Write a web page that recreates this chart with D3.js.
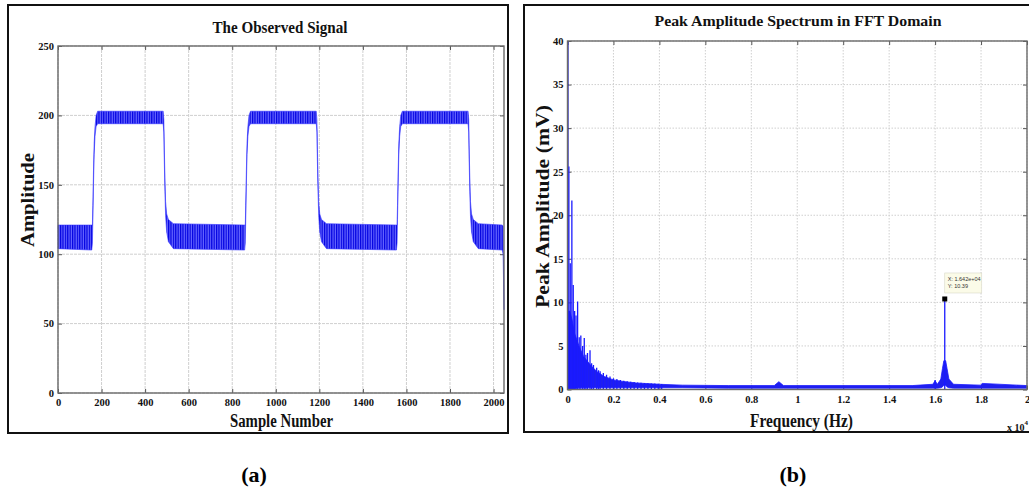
<!DOCTYPE html>
<html>
<head>
<meta charset="utf-8">
<script src="https://cdn.jsdelivr.net/npm/d3@7"></script>
<style>
  body { margin: 0; background: #fff; }
  svg { display: block; font-family: "Liberation Serif", "Times New Roman", serif; }
</style>
</head>
<body>
<svg id="fig" width="1029" height="493"></svg>
<script>
// ---------- (a) observed signal: envelope of the noisy square wave ----------
const sigSample = [0, 155, 158, 160, 163, 166, 170, 175, 182,
  483, 486, 488, 491, 494, 499, 507, 530,
  857, 860, 862, 865, 868, 872, 877, 884,
  1186, 1189, 1191, 1194, 1197, 1202, 1210, 1233,
  1554, 1557, 1559, 1562, 1565, 1569, 1574, 1581,
  1883, 1886, 1888, 1891, 1894, 1899, 1907, 1930,
  2040, 2044, 2048];
const sigLow = [104, 103, 108, 125, 150, 172, 185, 192, 194,
  194, 188, 168, 145, 128, 116, 109, 104,
  103, 108, 125, 150, 172, 185, 192, 194,
  194, 188, 168, 145, 128, 116, 109, 104,
  103, 108, 125, 150, 172, 185, 192, 194,
  194, 188, 168, 145, 128, 116, 109, 104,
  103, 100, 60];
const sigHigh = [121, 121, 121, 135, 160, 180, 192, 200, 203,
  203, 197, 178, 155, 138, 129, 125, 122,
  121, 121, 135, 160, 180, 192, 200, 203,
  203, 197, 178, 155, 138, 129, 125, 122,
  121, 121, 135, 160, 180, 192, 200, 203,
  203, 197, 178, 155, 138, 129, 125, 122,
  121, 120, 62];
const sigXTicks = [0, 200, 400, 600, 800, 1000, 1200, 1400, 1600, 1800, 2000];
const sigYTicks = [0, 50, 100, 150, 200, 250];

// ---------- (b) peak amplitude spectrum (frequency in Hz, amplitude in mV) ----------
const floorFreq = [0, 100, 200, 300, 500, 700, 1000, 1300, 1600, 2000, 2500, 3000, 4000, 5000,
  7000, 9000, 9200, 9400, 12000, 15000, 15900, 16000, 16100, 16250, 16320, 16380,
  16460, 16520, 16600, 16800, 18000, 18050, 20000];
const floorLow = [0, 0, 0, 0.1, 0.2, 0.2, 0.2, 0.2, 0.2, 0.2, 0.2, 0.2, 0.2, 0.2,
  0.15, 0.15, 0.15, 0.15, 0.15, 0.15, 0.15, 0.15, 0.15, 0.2, 0.3, 0.5,
  0.5, 0.3, 0.2, 0.15, 0.15, 0.15, 0.15];
const floorHigh = [9, 9, 8, 6.5, 5, 3.8, 2.8, 2.0, 1.5, 1.1, 0.9, 0.75, 0.6, 0.5,
  0.45, 0.45, 0.9, 0.45, 0.45, 0.45, 0.6, 1.0, 0.6, 1.2, 2.4, 3.3,
  3.3, 2.4, 1.2, 0.6, 0.5, 0.7, 0.45];
const spikeFreq = [0, 60, 120, 190, 250, 310, 370, 440, 510, 580, 660, 730, 800, 870, 980,
  1050, 1130, 1270, 1350, 1420, 1560, 1700, 1850, 2000, 2150, 2300, 2450, 2600, 2750,
  2900, 3050, 3200, 3350, 3500, 3650, 3800, 3950, 4100, 16000, 16420];
const spikeAmp = [48, 25.6, 14.5, 21.7, 12, 9, 8.5, 10.1, 6, 6.2, 5, 5.9, 4, 4.2, 4.5,
  3, 2.8, 2.5, 2.2, 2.1, 1.9, 1.7, 1.5, 1.3, 1.2, 1.1, 1.0, 0.95, 0.9,
  0.85, 0.8, 0.78, 0.75, 0.72, 0.7, 0.68, 0.66, 0.64, 1.1, 10.39];
const specXTicks = [0, 2000, 4000, 6000, 8000, 10000, 12000, 14000, 16000, 18000, 20000];
const specYTicks = [0, 5, 10, 15, 20, 25, 30, 35, 40];
const tipFreq = 16420;
const tipAmp = 10.39;

const svg = d3.select("#fig");
const blue = "#1a1aff";
const tickFont = 10.5;

svg.append("rect").attr("width", 1029).attr("height", 493).attr("fill", "#fff");

// stripe texture used for the dense oscillation inside the signal band
const defs = svg.append("defs");
const pat = defs.append("pattern").attr("id", "ripple").attr("patternUnits", "userSpaceOnUse")
  .attr("width", 2.4).attr("height", 6);
pat.append("rect").attr("width", 2.4).attr("height", 6).attr("fill", "#6868ff");
pat.append("rect").attr("width", 1.2).attr("height", 6).attr("fill", "#0000e0");

// panel frames
svg.append("rect").attr("x", 8).attr("y", 5).attr("width", 500).attr("height", 428)
  .attr("fill", "none").attr("stroke", "#111").attr("stroke-width", 2);
svg.append("rect").attr("x", 524).attr("y", 5).attr("width", 530).attr("height", 427)
  .attr("fill", "none").attr("stroke", "#111").attr("stroke-width", 2);

function styleAxis(g, showText) {
  g.select(".domain").remove();
  g.selectAll(".tick line").attr("stroke", "#555").attr("stroke-width", 1);
  g.selectAll(".tick text").attr("font-size", tickFont).attr("font-weight", "bold")
    .attr("fill", "#111").attr("font-family", "Liberation Serif, serif");
  if (!showText) g.selectAll(".tick text").remove();
}

function drawFrame(box, xs, ys, xTicks, yTicks, xFmt, dash) {
  const g = svg.append("g");
  // grid
  g.selectAll(".gx").data(xTicks).join("line")
    .attr("x1", d => xs(d)).attr("x2", d => xs(d)).attr("y1", box.y0).attr("y2", box.y1)
    .attr("stroke", "#cfcfcf").attr("stroke-width", 1).attr("stroke-dasharray", dash);
  g.selectAll(".gy").data(yTicks).join("line")
    .attr("x1", box.x0).attr("x2", box.x1).attr("y1", d => ys(d)).attr("y2", d => ys(d))
    .attr("stroke", "#cfcfcf").attr("stroke-width", 1).attr("stroke-dasharray", dash);
  // axes with inward ticks on all four sides
  g.append("g").attr("transform", `translate(0,${box.y1})`)
    .call(d3.axisBottom(xs).tickValues(xTicks).tickFormat(xFmt).tickSize(-4).tickSizeOuter(0).tickPadding(6))
    .call(a => styleAxis(a, true));
  g.append("g").attr("transform", `translate(0,${box.y0})`)
    .call(d3.axisTop(xs).tickValues(xTicks).tickSize(-4).tickSizeOuter(0))
    .call(a => styleAxis(a, false));
  g.append("g").attr("transform", `translate(${box.x0},0)`)
    .call(d3.axisLeft(ys).tickValues(yTicks).tickSize(-4).tickSizeOuter(0).tickPadding(4))
    .call(a => styleAxis(a, true));
  g.append("g").attr("transform", `translate(${box.x1},0)`)
    .call(d3.axisRight(ys).tickValues(yTicks).tickSize(-4).tickSizeOuter(0))
    .call(a => styleAxis(a, false));
  return g;
}

function axesBox(box) {
  svg.append("rect").attr("x", box.x0).attr("y", box.y0)
    .attr("width", box.x1 - box.x0).attr("height", box.y1 - box.y0)
    .attr("fill", "none").attr("stroke", "#6a6a6a").attr("stroke-width", 1.4);
}

function label(txt, x, y, size, len, rot) {
  const t = svg.append("text").attr("text-anchor", "middle").attr("font-weight", "bold")
    .attr("font-size", size).attr("fill", "#111").text(txt)
    .attr("textLength", len).attr("lengthAdjust", "spacingAndGlyphs");
  if (rot) t.attr("transform", `translate(${x},${y}) rotate(-90)`);
  else t.attr("x", x).attr("y", y);
  return t;
}

// ================= (a) The Observed Signal =================
const A = { x0: 58, x1: 504, y0: 46, y1: 393 };
const xA = d3.scaleLinear().domain([0, 2048]).range([A.x0, A.x1]);
const yA = d3.scaleLinear().domain([0, 250]).range([A.y1, A.y0]);
drawFrame(A, xA, yA, sigXTicks, sigYTicks, d => d, "3,1");

const sigRows = sigSample.map((s, i) => ({ s, lo: sigLow[i], hi: sigHigh[i] }));
svg.append("path").datum(sigRows)
  .attr("d", d3.area().x(d => xA(d.s)).y0(d => yA(d.lo)).y1(d => yA(d.hi)))
  .attr("fill", "url(#ripple)").attr("stroke", "#3030ff").attr("stroke-width", 0.6);
axesBox(A);

label("The Observed Signal", 280, 32.5, 17, 135);
label("Sample Number", 281.5, 427, 18, 103);
label("Amplitude", 34, 200, 18, 94, true);

// ================= (b) Peak Amplitude Spectrum =================
const B = { x0: 567.5, x1: 1027, y0: 41, y1: 389.5 };
const xB = d3.scaleLinear().domain([0, 20000]).range([B.x0, B.x1]);
const yB = d3.scaleLinear().domain([0, 40]).range([B.y1, B.y0]);
drawFrame(B, xB, yB, specXTicks, specYTicks, d => String(+(d / 1e4).toFixed(1)), "1.5,1.5");

defs.append("clipPath").attr("id", "clipB").append("rect")
  .attr("x", B.x0).attr("y", B.y0).attr("width", B.x1 - B.x0).attr("height", B.y1 - B.y0);
const gB = svg.append("g").attr("clip-path", "url(#clipB)");

const floorRows = floorFreq.map((f, i) => ({ f, lo: floorLow[i], hi: floorHigh[i] }));
gB.append("path").datum(floorRows)
  .attr("d", d3.area().x(d => xB(d.f)).y0(d => yB(d.lo)).y1(d => yB(d.hi)))
  .attr("fill", "#2020ee").attr("stroke", blue).attr("stroke-width", 0.8);

const spikeLine = d3.line().x(d => xB(d[0])).y(d => yB(d[1]));
gB.selectAll(".spike").data(spikeFreq.map((f, i) => [f, spikeAmp[i]])).join("path")
  .attr("d", d => spikeLine([[d[0], 0], [d[0], d[1]]]))
  .attr("stroke", (d, i) => i === 0 ? "#1010c0" : blue)
  .attr("stroke-width", (d, i) => i === 0 ? 2.2 : 1.3).attr("fill", "none");
axesBox(B);

// data tip on the spectral peak
function sci(v) {
  const e = Math.floor(Math.log10(v));
  const m = (v / Math.pow(10, e)).toFixed(3);
  return m + "e" + (e >= 0 ? "+" : "-") + String(Math.abs(e)).padStart(2, "0");
}
const px = xB(tipFreq), py = yB(tipAmp);
svg.append("rect").attr("x", px - 2.5).attr("y", py - 2.5).attr("width", 5).attr("height", 5).attr("fill", "#000");
const tip = svg.append("g").attr("transform", `translate(${px},${py - 26})`);
tip.append("rect").attr("x", 0).attr("y", 0).attr("width", 37).attr("height", 20)
  .attr("fill", "#fbfbe8").attr("stroke", "#d8d8c8").attr("stroke-width", 0.6);
tip.append("text").attr("x", 3).attr("y", 8).attr("font-size", 5.5)
  .attr("font-family", "Liberation Sans, Arial, sans-serif").attr("fill", "#333")
  .text("X: " + sci(tipFreq));
tip.append("text").attr("x", 3).attr("y", 15.5).attr("font-size", 5.5)
  .attr("font-family", "Liberation Sans, Arial, sans-serif").attr("fill", "#333")
  .text("Y: " + tipAmp);

label("Peak Amplitude Spectrum in FFT Domain", 798, 25.5, 15, 287);
label("Frequency (Hz)", 801.5, 427, 18, 103);
label("Peak Amplitude (mV)", 549, 206.5, 18, 203, true);

// axis exponent
const ex = svg.append("text").attr("x", 1007).attr("y", 431).attr("font-size", 10)
  .attr("font-weight", "bold").attr("fill", "#111");
ex.append("tspan").text("x 10");
ex.append("tspan").attr("dy", -6).attr("font-size", 7).text("4");

// sub-figure captions
svg.append("text").attr("x", 254).attr("y", 482).attr("text-anchor", "middle")
  .attr("font-size", 22).attr("font-weight", "bold").attr("fill", "#000").text("(a)");
svg.append("text").attr("x", 793).attr("y", 482).attr("text-anchor", "middle")
  .attr("font-size", 22).attr("font-weight", "bold").attr("fill", "#000").text("(b)");
</script>
</body>
</html>
